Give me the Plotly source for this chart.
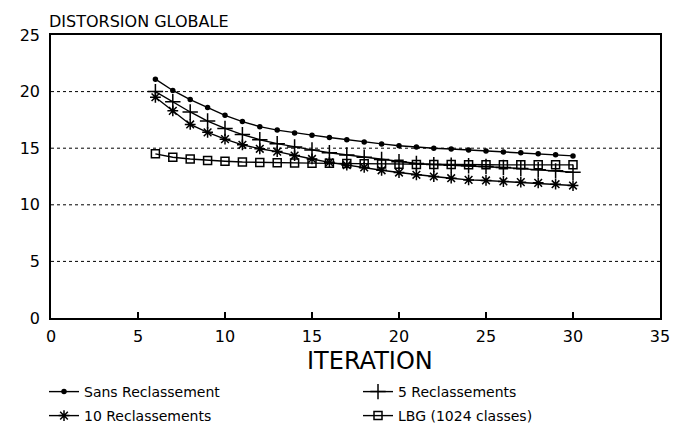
import plotly.graph_objects as go

iterations = list(range(6, 31))
sans_reclassement = [21.1, 20.1, 19.3, 18.6, 17.9, 17.35, 16.9, 16.6, 16.35, 16.15, 15.95, 15.75, 15.55,
                     15.38, 15.22, 15.1, 15.0, 14.93, 14.85, 14.75, 14.67, 14.6, 14.5, 14.42, 14.32]
cinq_reclassements = [20.0, 19.1, 18.2, 17.4, 16.75, 16.2, 15.75, 15.4, 15.1, 14.85, 14.6, 14.4, 14.2,
                      14.0, 13.8, 13.65, 13.55, 13.5, 13.45, 13.38, 13.3, 13.2, 13.1, 13.0, 12.88]
dix_reclassements = [19.5, 18.3, 17.1, 16.4, 15.8, 15.3, 14.95, 14.7, 14.35, 14.05, 13.75, 13.5, 13.3,
                     13.05, 12.85, 12.65, 12.5, 12.35, 12.2, 12.15, 12.06, 12.0, 11.94, 11.82, 11.7]
lbg_1024 = [14.5, 14.2, 14.05, 13.92, 13.85, 13.78, 13.74, 13.72, 13.7, 13.68, 13.66, 13.64, 13.62,
            13.6, 13.58, 13.56, 13.55, 13.55, 13.54, 13.54, 13.53, 13.53, 13.53, 13.53, 13.53]

x_ticks = [0, 5, 10, 15, 20, 25, 30, 35]
y_ticks = [0, 5, 10, 15, 20, 25]

FONT = "DejaVu Sans, Liberation Sans, Arial, sans-serif"
W, H = 679, 426
L, R, T, B = 43, 27, 27, 116
PW, PH = W - L - R, H - T - B

fig = go.Figure()
series = [
    ("Sans Reclassement", sans_reclassement, "circle", 4, "legend"),
    ("5 Reclassements", cinq_reclassements, "cross-thin-open", 11, "legend2"),
    ("10 Reclassements", dix_reclassements, "asterisk-open", 9, "legend3"),
    ("LBG (1024 classes)", lbg_1024, "square-open", 8, "legend4"),
]
for name, ys, sym, size, leg in series:
    fig.add_trace(go.Scatter(
        x=iterations, y=ys, name=name, mode="lines+markers", legend=leg,
        line=dict(color="black", width=1.4),
        marker=dict(symbol=sym, size=size, color="black",
                    line=dict(color="black", width=1.5)),
    ))

# horizontal dotted grid lines
for yv in y_ticks[1:-1]:
    fig.add_shape(type="line", xref="paper", x0=0, x1=1, yref="y", y0=yv, y1=yv,
                  line=dict(color="black", width=1, dash="dot"), layer="below")

def leg(xpx, ypx):
    return dict(xref="container", yref="container", x=xpx / W, y=1 - ypx / H,
                xanchor="left", yanchor="middle", orientation="h",
                font=dict(size=14, family=FONT, color="black"), itemwidth=30,
                bgcolor="rgba(0,0,0,0)", borderwidth=0)

def px_x(xpx):
    return (xpx - L) / PW

def px_y(ypx):
    return (H - B - ypx) / PH

fig.update_layout(
    width=W, height=H,
    margin=dict(l=L, r=R, t=T, b=B),
    paper_bgcolor="white", plot_bgcolor="white",
    font=dict(family=FONT, color="black"),
    showlegend=True,
    legend=leg(36, 384), legend2=leg(350, 384),
    legend3=leg(36, 408), legend4=leg(350, 408),
    annotations=[
        dict(text="DISTORSION GLOBALE", xref="paper", yref="paper",
             x=px_x(39), y=px_y(13), xanchor="left", yanchor="middle",
             showarrow=False, font=dict(size=16, family=FONT)),
        dict(text="ITERATION", xref="paper", yref="paper",
             x=px_x(362), y=px_y(353), xanchor="center", yanchor="middle",
             showarrow=False, font=dict(size=24, family=FONT)),
    ],
)
fig.update_xaxes(range=[0, 35], tickvals=x_ticks, ticks="inside", ticklen=6,
                 tickcolor="black", tickwidth=1.5, showgrid=False, zeroline=False,
                 showline=True, linecolor="black", linewidth=1.5, mirror=True,
                 tickfont=dict(size=16), ticklabelstandoff=3)
fig.update_yaxes(range=[0, 25], tickvals=y_ticks, ticks="", showgrid=False, zeroline=False,
                 showline=True, linecolor="black", linewidth=1.5, mirror=True,
                 tickfont=dict(size=16), ticklabelstandoff=6)

fig.write_html("out.html")
